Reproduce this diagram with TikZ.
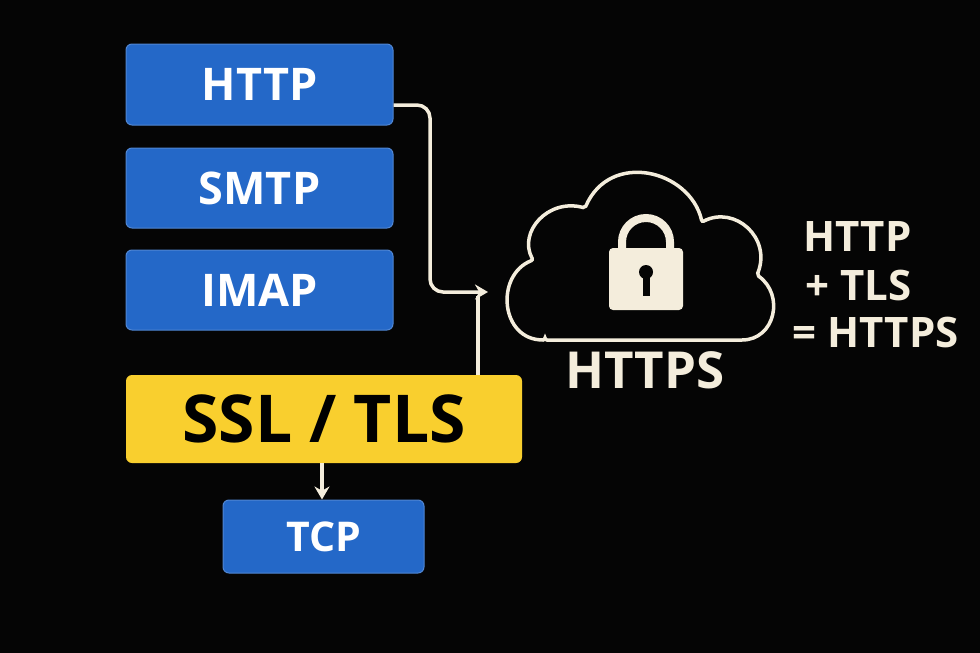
\documentclass[tikz,border=0pt]{standalone}
\usepackage{fontspec}
\setmainfont{Open Sans}
\usetikzlibrary{arrows.meta}
\definecolor{bg}{HTML}{050505}
\definecolor{blu}{HTML}{2468C8}
\definecolor{yel}{HTML}{F9CF2E}
\definecolor{crm}{HTML}{F4EDDC}
\begin{document}
\begin{tikzpicture}[x=1pt,y=-1pt,
  blubox/.style={fill=blu,draw=blu!80!white,line width=1pt,rounded corners=6pt,text=white,font=\bfseries\fontsize{45}{45}\selectfont},
  conn/.style={draw=crm,line width=3.5pt,-{Stealth[length=13pt,width=15pt]}},
  side/.style={text=crm,font=\bfseries\fontsize{42}{42}\selectfont,anchor=west}]
\fill[bg] (0,0) rectangle (980,653);
\useasboundingbox (0,0) rectangle (980,653);
\node[blubox,minimum width=267pt,minimum height=81pt] (http) at (259.5,84.5) {HTTP};
\node[blubox,minimum width=267pt,minimum height=80pt] (smtp) at (259.5,188) {SMTP};
\node[blubox,minimum width=267pt,minimum height=80pt] (imap) at (259.5,290) {IMAP};
\node[fill=yel,rounded corners=6pt,minimum width=396pt,minimum height=88pt,font=\bfseries\fontsize{66}{66}\selectfont] (ssl) at (324,419) {SSL / TLS};
\node[blubox,minimum width=201pt,minimum height=73pt,font=\bfseries\fontsize{41}{41}\selectfont] (tcp) at (323.5,536.5) {TCP};
\coordinate (tip) at (488,292);
\draw[conn,rounded corners=13pt] (http.east |- 0,105) -- (430,105) -- (430,292) -- (tip);
\draw[crm,line width=3.5pt] (ssl.north -| 478,0) -- (478,296);
\draw[conn] (ssl.south -| 322,0) -- (tcp.north -| 322,0);
% cloud
\draw[crm,line width=3.5pt,rounded corners=2pt] (545,340) -- (740,340)
  .. controls (775,340) and (785,295) .. (757,275)
  .. controls (772,238) and (735,205) .. (702,222)
  .. controls (690,170) and (610,150) .. (585,208)
  .. controls (548,198) and (518,232) .. (533,260)
  .. controls (495,275) and (500,340) .. (545,340) -- cycle;
\node (cloud) at (640,265) {};
% lock
\draw[crm,line width=8pt] (622,252) -- (622,242) arc[start angle=180,end angle=360,radius=24] -- (670,252);
\fill[crm,rounded corners=4pt] (609,248) rectangle (683,310);
\fill[bg] (646,272) circle (7);
\fill[bg] (642.5,274) rectangle (649.5,296);
\node[text=crm,font=\bfseries\fontsize{51}{51}\selectfont] (https) at (645,370) {HTTPS};
\node[side] (l1) at (800,237) {HTTP};
\node[side] (l2) at (802,285) {+ TLS};
\node[side] (l3) at (789,332) {= HTTPS};
\end{tikzpicture}
\end{document}
